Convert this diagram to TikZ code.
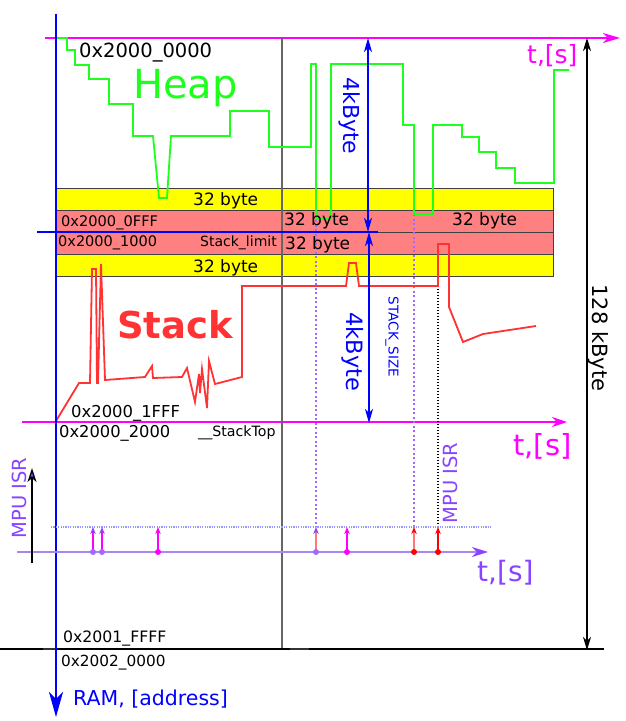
\documentclass[tikz,border=0pt]{standalone}
\usepackage{fontspec}
\setmainfont{DejaVu Sans}
\usetikzlibrary{arrows.meta}
\definecolor{heapgreen}{RGB}{30,255,30}
\definecolor{stackred}{RGB}{255,51,51}
\definecolor{bandpink}{RGB}{255,128,128}
\definecolor{bandyellow}{RGB}{255,255,0}
\definecolor{mag}{RGB}{255,0,255}
\definecolor{isrviolet}{RGB}{136,68,255}
\definecolor{israxis}{RGB}{170,135,240}
\definecolor{isrdot}{RGB}{150,150,255}
\definecolor{lightred}{RGB}{255,120,120}
\definecolor{ramblue}{RGB}{0,0,255}
\newcommand{\fsz}[1]{\fontsize{#1}{#1}\selectfont}
\begin{document}
\begin{tikzpicture}[x=1pt,y=-1pt,
    lbl/.style={inner sep=0pt,anchor=base west},
    vlbl/.style={inner sep=0pt,rotate=-90},
    band/.style={draw=black!75,line width=1pt},
    dotline/.style={line width=2pt,dash pattern=on 2pt off 2.5pt},
    isr/.style 2 args={draw=#1,line width=1.3pt,-{Stealth[length=7pt,width=5.5pt,color=#2]}},
    >={Stealth[length=14pt,width=8pt,inset=4pt]}]
  \useasboundingbox (0,0) rectangle (626,721);
  \draw[band,fill=bandyellow] (56,188) rectangle (553,210);
  \draw[band,fill=bandpink] (56,210) rectangle (553,232);
  \draw[band,fill=bandpink] (56,232) rectangle (553,254);
  \draw[band,fill=bandyellow] (56,254) rectangle (553,276);
  \draw[mag,line width=1.5pt,-{Stealth[length=17pt,width=10pt,inset=5pt]}] (45,38) -- (620,38);
  \draw[mag,line width=1.5pt,-{Stealth[length=15pt,width=10pt,inset=5pt]}] (22,422) -- (567,422);
  \draw[black!60,line width=1.3pt] (282,38) -- (282,648);
  \draw[line width=1.3pt] (0,649) -- (604,649);
  \draw[line width=1.8pt,black!80] (43,649) -- (55,649) (290,649) -- (309,649);
  \draw[line width=1.3pt,<->,>={Stealth[length=13pt,width=8pt,inset=4pt]}] (587,38) -- (587,650);
  \draw[isrviolet!80,dotline] (316,220) -- (316,527);
  \draw[isrviolet!80,dotline] (414,214) -- (414,527);
  \draw[line width=1.2pt,dash pattern=on 1.2pt off 1.8pt] (438,286) -- (438,527);
  \draw[heapgreen,line width=1.8pt] (56,38) -- (67,38) -- (67,50) -- (75,50) -- (75,65)
    -- (89,65) -- (89,79) -- (109,79) -- (109,104) -- (133,104) -- (133,136) -- (153,136)
    -- (159,198) -- (167,198) -- (171,136) -- (230,136) -- (230,111) -- (269,111)
    -- (269,147) -- (311,147) -- (311,64) -- (316,64) -- (316,219) -- (331,219)
    -- (331,64) -- (403,64) -- (403,125) -- (414,125) -- (414,214) -- (433,214)
    -- (433,125) -- (462,125) -- (462,137) -- (479,137) -- (479,152) -- (496,152)
    -- (496,168) -- (515,168) -- (515,183) -- (554,183) -- (554,70) -- (569,70);
  \draw[stackred,line width=1.8pt] (56,421) -- (79,383) -- (90,383) -- (92,269) -- (96,269)
    -- (97,383) -- (98,383) -- (101,264) -- (105,380) -- (145,377) -- (152,366)
    -- (153,378) -- (182,377) -- (187,368) -- (195,402) -- (199,374) -- (200,393)
    -- (202,369) -- (207,408) -- (209,361) -- (215,384) -- (242,377) -- (242,286)
    -- (346,286) -- (349,263) -- (356,263) -- (359,286) -- (438,286) -- (438,244)
    -- (449,244) -- (449,307) -- (463,342) -- (483,334) -- (536,326);
  \draw[ramblue,line width=1.3pt] (37,232) -- (378,232);
  \draw[ramblue,line width=1.3pt,<->] (368,38) -- (368,232);
  \draw[ramblue,line width=1.3pt,<->] (369,232) -- (369,423);
  \draw[ramblue,line width=1.6pt,-{Stealth[length=25pt,width=14pt,inset=7pt]}] (56,14) -- (56,717);
  \draw[isrdot,line width=1.5pt,dash pattern=on 1.2pt off 1.2pt] (51,527) -- (491,527);
  \draw[israxis,line width=1.8pt,-{Stealth[length=16pt,width=10pt,inset=5pt,color=isrviolet]}] (17,552) -- (488,552);
  \draw[line width=1.3pt,-{Stealth[length=14pt,width=9pt,inset=4pt,fill=isrviolet]}] (32,563) -- (32,468);
  \draw[isr={mag}{isrviolet}] (93,552) -- (93,527);
  \draw[isr={mag}{isrviolet}] (102,552) -- (102,527);
  \draw[isr={mag}{mag}] (158,552) -- (158,527);
  \draw[isr={lightred}{isrviolet}] (316,552) -- (316,527);
  \draw[isr={mag}{mag}] (347,552) -- (347,527);
  \draw[isr={lightred}{red}] (414,552) -- (414,527);
  \draw[isr={red}{red}] (438,552) -- (438,527);
  \fill[isrviolet!80] (93,552) circle (3) (102,552) circle (3) (316,552) circle (3);
  \fill[mag] (158,552) circle (3) (347,552) circle (3);
  \fill[red] (414,552) circle (3) (438,552) circle (3);
  \node[lbl] (A0) at (79,57) {\fsz{19.5}0x2000\_0000};
  \node[lbl,heapgreen] (H) at (133,98) {\fsz{40}Heap};
  \node[lbl,mag] (T1) at (527,63) {\fsz{25}t,[s]};
  \node[lbl] (B1) at (193,205) {\fsz{17}32 byte};
  \node[lbl] (A1) at (61,226) {\fsz{14.6}0x2000\_0FFF};
  \node[lbl] (B2) at (284,225) {\fsz{17}32 byte};
  \node[lbl] (B3) at (452,225) {\fsz{17}32 byte};
  \node[lbl] (A2) at (58,246) {\fsz{14.5}0x2000\_1000};
  \node[lbl] (L) at (200,246) {\fsz{14}Stack\_limit};
  \node[lbl] (B4) at (285,249) {\fsz{17}32 byte};
  \node[lbl] (B5) at (193,272) {\fsz{17}32 byte};
  \node[lbl,stackred] (S) at (117,338) {\fsz{37}\bfseries Stack};
  \node[lbl] (A3) at (71,417) {\fsz{16.4}0x2000\_1FFF};
  \node[lbl] (A4) at (59,437) {\fsz{16.3}0x2000\_2000};
  \node[lbl] (TOP) at (198,436) {\fsz{14.2}\_\_StackTop};
  \node[lbl,mag] (T2) at (513,455) {\fsz{29}t,[s]};
  \node[lbl,isrviolet] (T3) at (477,581) {\fsz{28}t,[s]};
  \node[lbl] (A5) at (63,642) {\fsz{15.7}0x2001\_FFFF};
  \node[lbl] (A6) at (61,666) {\fsz{15.3}0x2002\_0000};
  \node[lbl,ramblue] (RAM) at (73,705) {\fsz{20.5}RAM, [address]};
  \node[vlbl,ramblue] (K1) at (350,116) {\fsz{22}4kByte};
  \node[vlbl,ramblue] (K2) at (353,352) {\fsz{22.5}4kByte};
  \node[vlbl,ramblue] (SZ) at (392,337) {\fsz{13.5}STACK\_SIZE};
  \node[vlbl] (K128) at (598,338) {\fsz{21}128 kByte};
  \node[inner sep=0pt,rotate=90,isrviolet] (M1) at (19,498) {\fsz{19.5}MPU ISR};
  \node[inner sep=0pt,rotate=90,isrviolet] (M2) at (450,483) {\fsz{19.5}MPU ISR};
\end{tikzpicture}
\end{document}
